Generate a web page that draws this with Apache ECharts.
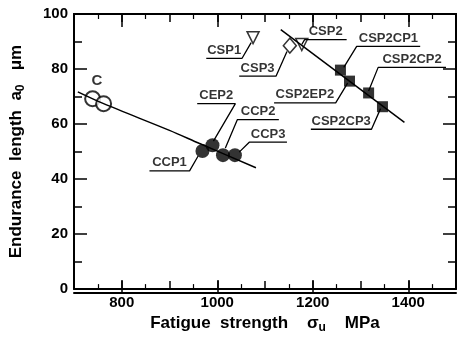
<!DOCTYPE html>
<html>
<head>
<meta charset="utf-8">
<script src="https://cdn.jsdelivr.net/npm/echarts@6/dist/echarts.min.js"></script>
<style>
  html, body { margin: 0; padding: 0; background: #fff; }
  #chart { width: 459px; height: 339px; }
  #log { position: absolute; left: 0; top: 0; font: 9px sans-serif; color: red; }
</style>
</head>
<body>
<div id="chart"></div>
<div id="log"></div>
<script>
// tick labels
const xLabels = [800, 1000, 1200, 1400];
const xTallTicks = [800, 1000, 1200, 1400];

// fitted curves
const cCurve = [[708, 71.7], [762, 67.4], [900, 57.7], [962, 53.0], [1081, 44.1]];
const cspLine = [[1133, 94.3], [1392, 60.6]];

// data points
const cPoints = [[739, 69.2], [762, 67.4]];
const ccpPoints = [[969, 50.2], [990, 52.3], [1012, 48.7], [1037, 48.7]];
const triPoints = [[1075, 91.4], [1177, 88.9]];
const diaPoints = [[1152, 88.5]];
const sqPoints = [[1258, 79.6], [1277, 75.6], [1317, 71.3], [1346, 66.3]];

// annotations: name, underline [x1, x2, y], leader target, leader side
const annoNames = ['CEP2', 'CCP1', 'CCP2', 'CCP3', 'CSP1', 'CSP3', 'CSP2',
  'CSP2CP1', 'CSP2CP2', 'CSP2EP2', 'CSP2CP3'];
const annoUnder = [[958, 1038, 67.4], [858, 942, 43.0], [1042, 1129, 61.6], [1067, 1146, 53.4],
  [977, 1052, 83.9], [1046, 1123, 77.4], [1183, 1271, 90.7],
  [1292, 1425, 88.2], [1337, 1479, 80.6], [1119, 1248, 67.7], [1196, 1323, 58.1]];
const annoTarget = [[992, 53.8], [960, 48.4], [1017, 51.3], [1046, 49.8],
  [1071, 89.6], [1146, 86.4], [1177, 88.9],
  [1265, 80.6], [1317, 72.0], [1273, 74.9], [1342, 65.6]];
const annoSide = ['r', 'r', 'l', 'l', 'r', 'r', 'l', 'l', 'l', 'r', 'r'];

const font = 'Liberation Sans';
const black = '#000';
const clear = 'rgba(0,0,0,0)';
const gridBox = { left: 74, right: 3, top: 14, bottom: 46 };

function xAxisOf(pos, grid) {
  const a = {
    type: 'value', min: 700, max: 1500, interval: 100, position: pos, gridIndex: grid,
    axisLine: { show: true, onZero: false, lineStyle: { color: black, width: 2 } },
    axisTick: { show: true, inside: true, length: 8, lineStyle: { color: black, width: 1.5 } },
    minorTick: { show: true, splitNumber: 2, length: 5, lineStyle: { color: black, width: 1.2 } },
    axisLabel: {
      show: pos === 'bottom' && grid === 0, margin: 6,
      color: black, fontFamily: font, fontWeight: 'bold', fontSize: 15,
      formatter: v => (xLabels.includes(v) ? String(v) : '')
    },
    splitLine: { show: false }
  };
  if (grid === 1) {
    a.axisTick = { show: true, inside: true, length: 13, customValues: xTallTicks, lineStyle: { color: black, width: 1.5 } };
    a.minorTick = { show: false };
  }
  return a;
}

function yAxisOf(pos) {
  return {
    type: 'value', min: 0, max: 100, interval: 20, position: pos, gridIndex: 0,
    axisLine: { show: true, onZero: false, lineStyle: { color: black, width: 2 } },
    axisTick: { show: true, inside: true, length: 13, lineStyle: { color: black, width: 1.5 } },
    minorTick: { show: true, splitNumber: 2, length: 8, lineStyle: { color: black, width: 1.5 } },
    axisLabel: {
      show: pos === 'left', margin: 6,
      color: black, fontFamily: font, fontWeight: 'bold', fontSize: 15
    },
    splitLine: { show: false }
  };
}

const xAxes = [xAxisOf('bottom', 0), xAxisOf('top', 0), xAxisOf('bottom', 1), xAxisOf('top', 1)];
xAxes[0].name = '{t|Fatigue  strength    σ}{s|u}{t|    MPa}';
xAxes[0].nameLocation = 'middle';
xAxes[0].nameGap = 21;
xAxes[0].nameTextStyle = {
  rich: {
    t: { fontFamily: font, fontWeight: 'bold', fontSize: 17, color: black },
    s: { fontFamily: font, fontWeight: 'bold', fontSize: 12, color: black, padding: [9, 0, 0, 0] }
  }
};

const yAxes = [yAxisOf('left'), yAxisOf('right'),
  { type: 'value', min: 0, max: 100, gridIndex: 1, show: false }];
yAxes[0].name = '{t|Endurance  length  a}{s|0}{t|   μm}';
yAxes[0].nameLocation = 'middle';
yAxes[0].nameGap = 47;
yAxes[0].nameTextStyle = {
  rich: {
    t: { fontFamily: font, fontWeight: 'bold', fontSize: 17, color: black },
    s: { fontFamily: font, fontWeight: 'bold', fontSize: 12, color: black, padding: [9, 0, 0, 0] }
  }
};

const series = [];

// leader lines and underlines first, so markers sit on top
annoNames.forEach((n, i) => {
  const [x1, x2, y] = annoUnder[i];
  const near = annoSide[i] === 'r' ? x2 : x1;
  const far = annoSide[i] === 'r' ? x1 : x2;
  series.push({
    type: 'line', data: [annoTarget[i], [near, y], [far, y]], symbol: 'none',
    lineStyle: { color: black, width: 1.3 }
  });
});

series.push(
  { type: 'line', data: cCurve, smooth: 0.3, symbol: 'none', lineStyle: { color: black, width: 1.5 } },
  { type: 'line', data: cspLine, symbol: 'none', lineStyle: { color: black, width: 1.5 } },
  { type: 'scatter', data: cPoints, symbol: 'emptyCircle', symbolSize: 15,
    itemStyle: { color: black, borderColor: black, borderWidth: 1.5 } },
  { type: 'scatter', data: ccpPoints, symbol: 'circle', symbolSize: 14, itemStyle: { color: black } },
  { type: 'scatter', data: triPoints, symbol: 'triangle', symbolRotate: 180, symbolSize: 12,
    itemStyle: { color: '#fff', borderColor: black, borderWidth: 1.5 } },
  { type: 'scatter', data: diaPoints, symbol: 'diamond', symbolSize: [13, 15],
    itemStyle: { color: '#fff', borderColor: black, borderWidth: 1.5 } },
  { type: 'scatter', data: sqPoints, symbol: 'rect', symbolSize: 11, itemStyle: { color: black } },
  { type: 'scatter', data: [{ value: [748, 75.6], name: 'C' }], symbolSize: 1, itemStyle: { color: clear },
    label: { show: true, position: 'inside', formatter: '{b}', color: black,
      fontFamily: font, fontWeight: 'bold', fontSize: 15 } },
  { type: 'scatter', symbolSize: 1, itemStyle: { color: clear },
    data: annoNames.map((n, i) => ({ value: [(annoUnder[i][0] + annoUnder[i][1]) / 2, annoUnder[i][2]], name: n })),
    label: { show: true, position: 'top', distance: 1, formatter: '{b}', color: black,
      fontFamily: font, fontWeight: 'bold', fontSize: 13 } }
);

try {
  const chart = echarts.init(document.getElementById('chart'));
  chart.setOption({
    animation: false,
    grid: [Object.assign({}, gridBox), Object.assign({}, gridBox)],
    xAxis: xAxes,
    yAxis: yAxes,
    series: series.map(s => Object.assign({ xAxisIndex: 0, yAxisIndex: 0 }, s))
  });
} catch (e) {
  document.getElementById('log').textContent = e.message;
}
</script>
</body>
</html>
